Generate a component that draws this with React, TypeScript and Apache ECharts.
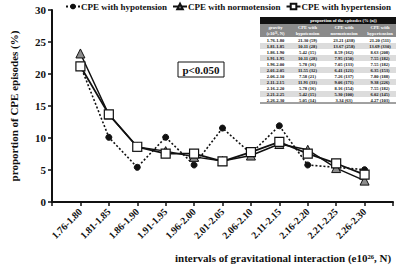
import React, { useEffect, useRef } from "react";
import * as echarts from "echarts";

const categories = ["1.76-1.80", "1.81-1.85", "1.86-1.90", "1.91-1.95", "1.96-2.00", "2.01-2.05", "2.06-2.10", "2.11-2.15", "2.16-2.20", "2.21-2.25", "2.26-2.30"];
const hypotension = [21.3, 10.11, 5.42, 10.11, 5.78, 11.55, 7.58, 11.91, 5.78, 5.42, 5.05];
const normotension = [23.21, 13.67, 8.59, 7.95, 7.05, 6.41, 7.26, 9.06, 8.16, 5.3, 3.34];
const hypertension = [21.2, 13.69, 8.63, 7.55, 7.55, 6.35, 7.8, 9.38, 7.55, 6.02, 4.27];
const hypoCounts = [59, 28, 15, 28, 16, 32, 21, 33, 16, 15, 14];
const normoCounts = [438, 258, 162, 150, 133, 121, 137, 171, 154, 100, 63];
const hyperCounts = [511, 330, 208, 182, 182, 153, 188, 226, 182, 145, 103];
const yTicks = { min: 0, max: 30, interval: 5 };

const FONT = "'Liberation Serif', 'Times New Roman', serif";

function buildTable() {
  const els: any[] = [];
  const x0 = 260, x1 = 396;
  const cols = [260, 291, 324, 364, 396];
  const centers = cols.slice(0, 4).map((c, i) => (c + cols[i + 1]) / 2);
  const top = 17;
  els.push({ type: "rect", shape: { x: x0, y: top, width: x1 - x0, height: 7 }, style: { fill: "#111" } });
  els.push({
    type: "text", x: (cols[1] + x1) / 2, y: top + 3.5,
    style: { text: "proportion of the episodes (% (n))", fill: "#fff", font: `bold 4.6px ${FONT}`, align: "center", verticalAlign: "middle" },
  });
  els.push({ type: "rect", shape: { x: x0, y: top + 7, width: x1 - x0, height: 13 }, style: { fill: "#8a8a8a" } });
  const heads = [["gravity", "(e10²⁶, N)"], ["CPE with", "hypotension"], ["CPE with", "normotension"], ["CPE with", "hypertension"]];
  heads.forEach((h, i) => {
    h.forEach((t, j) => {
      els.push({
        type: "text", x: centers[i], y: top + 10.5 + j * 5.5,
        style: { text: t, fill: "#fff", font: `bold 4.6px ${FONT}`, align: "center", verticalAlign: "middle" },
      });
    });
  });
  const rowTop = top + 20;
  const rh = 6;
  categories.forEach((c, r) => {
    const y = rowTop + r * rh;
    if (r % 2 === 1) {
      els.push({ type: "rect", shape: { x: x0, y, width: x1 - x0, height: rh }, style: { fill: "#dcdcdc" } });
    }
    const cells = [
      c,
      `${hypotension[r].toFixed(2)} (${hypoCounts[r]})`,
      `${normotension[r].toFixed(2)} (${normoCounts[r]})`,
      `${hypertension[r].toFixed(2)} (${hyperCounts[r]})`,
    ];
    cells.forEach((t, i) => {
      els.push({
        type: "text", x: centers[i], y: y + rh / 2,
        style: { text: t, fill: "#111", font: `bold 4.6px ${FONT}`, align: "center", verticalAlign: "middle" },
      });
    });
  });
  els.push({ type: "line", shape: { x1: x0, y1: rowTop + 11 * rh, x2: x1, y2: rowTop + 11 * rh }, style: { stroke: "#111", lineWidth: 0.8 } });
  return els;
}

export default function App() {
  const ref = useRef<HTMLDivElement>(null);
  useEffect(() => {
    if (!ref.current) return;
    const chart = echarts.init(ref.current, null, { renderer: "svg" });
    const xCats = ["", ...categories, ""];
    const toData = (v: number[]) => categories.map((c, i) => [c, v[i]]);
    chart.setOption({
      animation: false,
      backgroundColor: "#fff",
      textStyle: { fontFamily: FONT },
      grid: { left: 52, right: 5, top: 10, bottom: 67, containLabel: false },
      legend: {
        top: 2,
        left: 65,
        width: 360,
        padding: 0,
        itemGap: 5,
        itemWidth: 14,
        itemHeight: 7,
        textStyle: { fontFamily: FONT, fontWeight: "bold", fontSize: 9, color: "#111", padding: [0, 0, 0, -4] },
        data: ["CPE with hypotension", "CPE with normotension", "CPE with hypertension"],
      },
      xAxis: {
        type: "category",
        data: xCats,
        boundaryGap: false,
        axisLine: { lineStyle: { color: "#111", width: 2 } },
        axisTick: { show: true, length: 4, lineStyle: { color: "#111", width: 1.5 }, interval: 0 },
        axisLabel: { interval: 0, rotate: 45, margin: 8, color: "#111", fontFamily: FONT, fontWeight: "bold", fontSize: 10 },
        splitLine: { show: false },
      },
      yAxis: {
        type: "value",
        min: yTicks.min,
        max: yTicks.max,
        interval: yTicks.interval,
        name: "proportion of CPE episodes (%)",
        nameLocation: "middle",
        nameGap: 33,
        nameTextStyle: { fontFamily: FONT, fontWeight: "bold", fontSize: 11, color: "#111" },
        axisLine: { show: true, lineStyle: { color: "#111", width: 2 } },
        axisTick: { show: true, length: 4, lineStyle: { color: "#111", width: 1.5 } },
        axisLabel: { margin: 6, color: "#111", fontFamily: FONT, fontWeight: "bold", fontSize: 11 },
        splitLine: { show: false },
      },
      series: [
        {
          name: "CPE with hypotension",
          type: "line",
          data: toData(hypotension),
          symbol: "circle",
          symbolSize: 6,
          itemStyle: { color: "#111", borderColor: "#111" },
          lineStyle: { color: "#111", width: 1.6, type: [2, 2] },
          z: 2,
        },
        {
          name: "CPE with normotension",
          type: "line",
          data: toData(normotension),
          symbol: "triangle",
          symbolSize: 9,
          itemStyle: { color: "#8c8c8c", borderColor: "#111", borderWidth: 1 },
          lineStyle: { color: "#111", width: 1.5 },
          z: 3,
        },
        {
          name: "CPE with hypertension",
          type: "line",
          data: toData(hypertension),
          symbol: "rect",
          symbolSize: 9,
          itemStyle: { color: "#fff", borderColor: "#111", borderWidth: 1.2 },
          lineStyle: { color: "#111", width: 1.8 },
          z: 4,
        },
      ],
      graphic: [
        {
          type: "group",
          children: [
            { type: "rect", shape: { x: 178, y: 62, width: 46, height: 15 }, style: { fill: "#fff", stroke: "#111", lineWidth: 1 } },
            { type: "text", x: 201, y: 70, style: { text: "p<0.050", font: `bold 11px ${FONT}`, fill: "#111", align: "center", verticalAlign: "middle" } },
          ],
        },
        {
          type: "text",
          x: 175,
          y: 258,
          style: { text: "intervals of gravitational interaction (e10²⁶, N)", font: `bold 11px ${FONT}`, fill: "#111", verticalAlign: "middle" },
        },
        { type: "group", children: buildTable() },
      ],
    });
    return () => chart.dispose();
  }, []);
  return <div ref={ref} style={{ width: 398, height: 269, position: "absolute", left: 0, top: 0 }} />;
}
